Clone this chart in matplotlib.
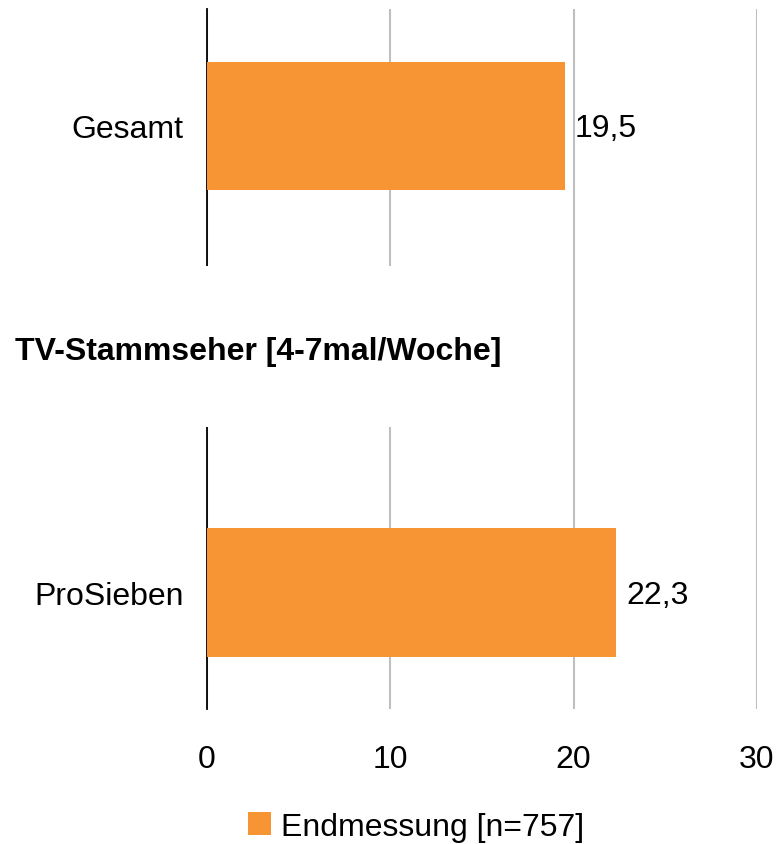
import matplotlib
matplotlib.use("Agg")
import matplotlib.pyplot as plt
import matplotlib.patches as mpatches
import matplotlib.transforms as mtransforms

plt.rcParams['font.family'] = ['Liberation Sans', 'DejaVu Sans']

categories = ["Gesamt", "TV-Stammseher [4-7mal/Woche]", "ProSieben"]
values = [19.5, None, 22.3]
header_rows = [1]
series_name = "Endmessung [n=757]"
x_ticks = [0, 10, 20, 30]

bar_color = "#F79433"
grid_color = "#BFBFBF"

fig = plt.figure(figsize=(7.76, 8.45), dpi=100)
ax = fig.add_axes([207/776, (845-710)/845, 550/776, 700/845])

ypos = list(range(len(categories)))
bar_y = [y for y, v in zip(ypos, values) if v is not None]
bar_v = [v for v in values if v is not None]

ax.barh(bar_y, bar_v, height=0.55, color=bar_color, zorder=3, label=series_name)

for y, v in zip(bar_y, bar_v):
    ax.text(v + 0.55, y + 0.01, ("%.1f" % v).replace(".", ","), va="center", ha="left",
            fontsize=23, color="black")

ax.set_xlim(0, 30)
ax.set_ylim(2.5, -0.5)
ax.set_xticks(x_ticks)
ax.set_xticklabels([str(t) for t in x_ticks], fontsize=23)

tick_labels = [c if i not in header_rows else "" for i, c in enumerate(categories)]
ax.set_yticks(ypos)
ax.set_yticklabels(tick_labels, fontsize=23)
ax.tick_params(axis="both", length=0)
ax.tick_params(axis="y", pad=17)
ax.tick_params(axis="x", pad=25)

for s in ["top", "right", "bottom"]:
    ax.spines[s].set_visible(False)
ax.spines["left"].set_color("black")
ax.spines["left"].set_linewidth(1.3)
ax.spines["left"].set_zorder(2)

ax.xaxis.grid(True, color=grid_color, linewidth=1.5, zorder=0)
ax.set_axisbelow(True)

# header rows: white band hides the axis line and the first gridline
trans = mtransforms.blended_transform_factory(ax.transAxes, ax.transData)
for h in header_rows:
    rect = mpatches.Rectangle((-0.4, h - 0.4), 0.95, 0.69, transform=trans,
                              facecolor="white", edgecolor="none", zorder=4, clip_on=False)
    ax.add_patch(rect)
    ax.text(15/776, h - 0.035, categories[h], transform=mtransforms.blended_transform_factory(fig.transFigure, ax.transData),
            fontsize=23, fontweight="bold", va="center", ha="left", zorder=5)

leg = fig.legend(loc="center", bbox_to_anchor=(416/776, (845-828)/845), frameon=False,
                 fontsize=23, handlelength=0.72, handleheight=0.72, handletextpad=0.3)

fig.savefig("out.png", dpi=100)
